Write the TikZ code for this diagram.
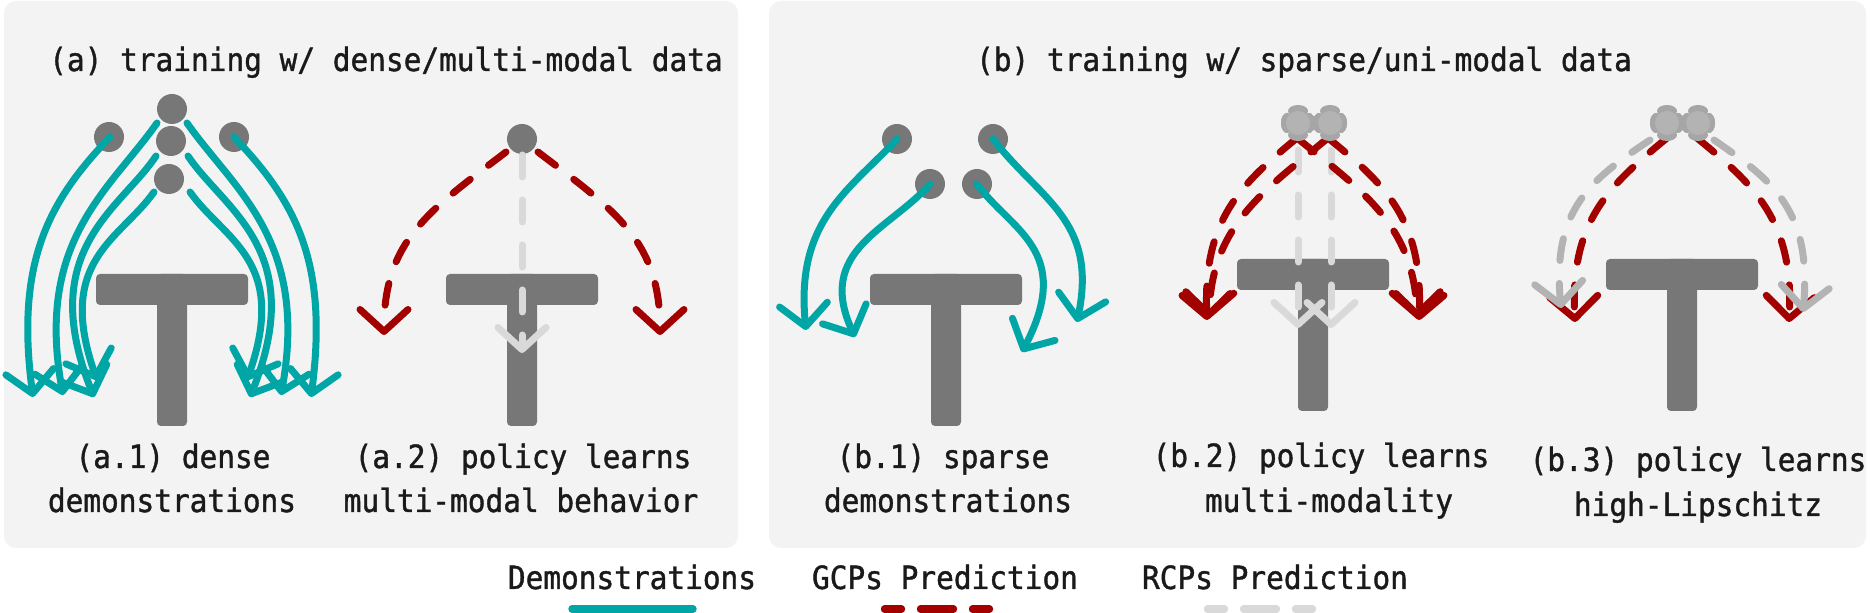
\documentclass[tikz,border=0pt]{standalone}
\usepackage{fontspec}
\newfontfamily\monofam[FakeStretch=0.92,FakeBold=1.2]{DejaVu Sans Mono}
\usetikzlibrary{arrows.meta}
\definecolor{panelbg}{HTML}{F3F3F3}
\definecolor{tgray}{HTML}{777777}
\definecolor{democ}{HTML}{00A6A6}
\definecolor{gcpc}{HTML}{A30000}
\definecolor{rcpc}{HTML}{D9D9D9}
\definecolor{rcpd}{HTML}{B3B3B3}
\definecolor{blobd}{HTML}{A6A6A6}
\definecolor{txt}{HTML}{1A1A1A}
\newcommand\drawT[2]{%
  \fill[tgray,rounded corners=2pt] (#1-76,#2) rectangle (#1+76,#2+31);
  \fill[tgray,rounded corners=2pt] (#1-15,#2) rectangle (#1+15,#2+152);}
\newcommand\blobdot[3]{%
  \fill[blobd] (#1,#2) ellipse [x radius=5pt, y radius=3pt];
  \fill[blobd] (#1-11,#3) ellipse [x radius=3pt, y radius=5pt];
  \fill[blobd] (#1+11,#3) ellipse [x radius=3pt, y radius=5pt];}
\begin{document}
\begin{tikzpicture}[x=0.5pt,y=-0.5pt,
  tipstyle/.style={-{Straight Barb[length=11pt,width=24pt,round]}},
  demo/.style={draw=democ,line width=3.5pt,line cap=round,tipstyle},
  gcp/.style={draw=gcpc,line width=3.5pt,line cap=round,dash pattern=on 11pt off 11.5pt,tipstyle},
  rcp/.style={draw=rcpc,line width=3.5pt,line cap=round,dash pattern=on 11pt off 11.5pt,tipstyle},
  rcpdark/.style={rcp,draw=rcpd},
  lbl/.style={font=\monofam\fontsize{16}{19}\selectfont,text=txt,anchor=base,inner sep=0pt},
  panel/.style={fill=panelbg,rounded corners=6pt},
  dot/.style={circle,fill=tgray,minimum size=15pt,inner sep=0pt},
  ldot/.style={circle,fill=rcpd,minimum size=12pt,inner sep=0pt},
]
\useasboundingbox (0,0) rectangle (1870,613);
% panels
\fill[panel] (4,1) rectangle (738,548);
\fill[panel] (769,1) rectangle (1866,548);

% titles
\node[lbl] (ta) at (386,71) {(a) training w/ dense/multi-modal data};
\node[lbl] (tb) at (1304,71) {(b) training w/ sparse/uni-modal data};

% ---------- (a.1) ----------
\drawT{172}{274}
\node[dot] (a1c0) at (172,109) {};
\node[dot] (a1c1) at (171,141) {};
\node[dot] (a1c2) at (169,179) {};
\node[dot] (a1cl) at (109,137) {};
\node[dot] (a1cr) at (234,137) {};
\coordinate (a1s1) at (110,137); \coordinate (a1e1) at (33,397);
\coordinate (a1s2) at (157,123); \coordinate (a1e2) at (63,395);
\coordinate (a1s3) at (156,156); \coordinate (a1e3) at (94,397);
\coordinate (a1s4) at (154,192); \coordinate (a1e4) at (97,380);
\coordinate (a1s5) at (234,137); \coordinate (a1e5) at (311,397);
\coordinate (a1s6) at (187,123); \coordinate (a1e6) at (281,395);
\coordinate (a1s7) at (188,156); \coordinate (a1e7) at (250,397);
\coordinate (a1s8) at (190,192); \coordinate (a1e8) at (247,380);
\draw[demo] (a1s1) .. controls (50,200) and (15,260) .. (a1e1);
\draw[demo] (a1s2) .. controls (110,190) and (35,240) .. (a1e2);
\draw[demo] (a1s3) .. controls (120,210) and (35,250) .. (a1e3);
\draw[demo] (a1s4) .. controls (120,240) and (55,260) .. (a1e4);
\draw[demo] (a1s5) .. controls (294,200) and (329,260) .. (a1e5);
\draw[demo] (a1s6) .. controls (234,190) and (309,240) .. (a1e6);
\draw[demo] (a1s7) .. controls (224,210) and (309,250) .. (a1e7);
\draw[demo] (a1s8) .. controls (224,240) and (289,260) .. (a1e8);

% ---------- (a.2) ----------
\drawT{522}{274}
\node[dot] (a2c) at (522,139) {};
\coordinate (a2sl) at (506,152); \coordinate (a2el) at (384,335);
\coordinate (a2sr) at (538,152); \coordinate (a2er) at (660,335);
\coordinate (a2sm) at (522,155); \coordinate (a2em) at (522,353);
\draw[rcp] (a2sm) -- (a2em);
\draw[gcp] (a2sl) .. controls (430,210) and (384,240) .. (a2el);
\draw[gcp] (a2sr) .. controls (614,210) and (660,240) .. (a2er);

% ---------- (b.1) ----------
\drawT{946}{274}
\node[dot] (b1c1) at (897,139) {};
\node[dot] (b1c2) at (993,139) {};
\node[dot] (b1c3) at (930,184) {};
\node[dot] (b1c4) at (977,184) {};
\coordinate (b1e1) at (806,330);
\coordinate (b1e2) at (855,337);
\coordinate (b1e3) at (1022,352);
\coordinate (b1e4) at (1077,322);
\draw[demo] (b1c1.center) .. controls (850,190) and (795,220) .. (b1e1);
\draw[demo] (b1c3.center) .. controls (890,230) and (815,250) .. (b1e2);
\draw[demo] (b1c4.center) .. controls (1010,230) and (1075,250) .. (b1e3);
\draw[demo] (b1c2.center) .. controls (1040,200) and (1098,220) .. (b1e4);

% ---------- (b.2) ----------
\drawT{1313}{259}
\coordinate (b2g1s) at (1298,150); \coordinate (b2g1e) at (1298,328);
\coordinate (b2g2s) at (1331,150); \coordinate (b2g2e) at (1331,328);
\draw[rcp] (b2g1s) -- (b2g1e);
\draw[rcp] (b2g2s) -- (b2g2e);
\coordinate (b2s1) at (1297,138); \coordinate (b2s2) at (1328,138);
\coordinate (b2el) at (1207,320); \coordinate (b2eli) at (1209,318);
\coordinate (b2er) at (1419,320); \coordinate (b2eri) at (1417,318);
\draw[gcp] (b2s1) .. controls (1240,185) and (1203,220) .. (b2el);
\draw[gcp] (b2s2) .. controls (1265,190) and (1212,225) .. (b2eli);
\draw[gcp] (b2s2) .. controls (1386,185) and (1423,220) .. (b2er);
\draw[gcp] (b2s1) .. controls (1361,190) and (1414,225) .. (b2eri);
\fill[blobd] (1298,116) rectangle (1330,130);
\blobdot{1298}{111}{123}
\blobdot{1298}{135}{123}
\blobdot{1330}{111}{123}
\blobdot{1330}{135}{123}
\node[ldot] (b2c1) at (1298,123) {};
\node[ldot] (b2c2) at (1330,123) {};

% ---------- (b.3) ----------
\drawT{1682}{259}
\coordinate (b3s1) at (1667,138); \coordinate (b3s2) at (1697,138);
\coordinate (b3e1) at (1575,322); \coordinate (b3e2) at (1789,322);
\draw[gcp] (b3s1) .. controls (1610,185) and (1570,220) .. (b3e1);
\draw[gcp] (b3s2) .. controls (1754,185) and (1794,220) .. (b3e2);
\coordinate (b3g1s) at (1650,140); \coordinate (b3g1e) at (1561,308);
\coordinate (b3g2s) at (1714,140); \coordinate (b3g2e) at (1803,312);
\draw[rcpdark] (b3g1s) .. controls (1590,180) and (1552,210) .. (b3g1e);
\draw[rcpdark] (b3g2s) .. controls (1772,180) and (1812,210) .. (b3g2e);
\fill[blobd] (1667,116) rectangle (1698,130);
\blobdot{1667}{111}{123}
\blobdot{1667}{135}{123}
\blobdot{1698}{111}{123}
\blobdot{1698}{135}{123}
\node[ldot] (b3c1) at (1667,123) {};
\node[ldot] (b3c2) at (1698,123) {};

% ---------- labels ----------
\node[lbl] (la1a) at (173,468) {(a.1) dense};
\node[lbl] (la1b) at (172,512) {demonstrations};
\node[lbl] (la2a) at (523,468) {(a.2) policy learns};
\node[lbl] (la2b) at (521,512) {multi-modal behavior};
\node[lbl] (lb1a) at (943,468) {(b.1) sparse};
\node[lbl] (lb1b) at (948,512) {demonstrations};
\node[lbl] (lb2a) at (1321,467) {(b.2) policy learns};
\node[lbl] (lb2b) at (1329,512) {multi-modality};
\node[lbl] (lb3a) at (1698,471) {(b.3) policy learns};
\node[lbl] (lb3b) at (1698,516) {high-Lipschitz};

% ---------- legend ----------
\node[lbl] (lgd) at (632,589) {Demonstrations};
\node[lbl] (lgg) at (945,589) {GCPs Prediction};
\node[lbl] (lgr) at (1275,589) {RCPs Prediction};
\coordinate (lgd1) at (572,609); \coordinate (lgd2) at (693,609);
\coordinate (lgg1) at (884.5,609); \coordinate (lgg2) at (989.5,609);
\coordinate (lgr1) at (1207.5,609); \coordinate (lgr2) at (1312.5,609);
\draw[democ,line width=3.7pt,line cap=round] (lgd1) -- (lgd2);
\draw[gcpc,line width=3.7pt,line cap=round,dash pattern=on 16.5pt off 9.5pt,dash phase=8pt] (lgg1) -- (lgg2);
\draw[rcpc,line width=3.7pt,line cap=round,dash pattern=on 16.5pt off 9.5pt,dash phase=8pt] (lgr1) -- (lgr2);
\end{tikzpicture}
\end{document}
